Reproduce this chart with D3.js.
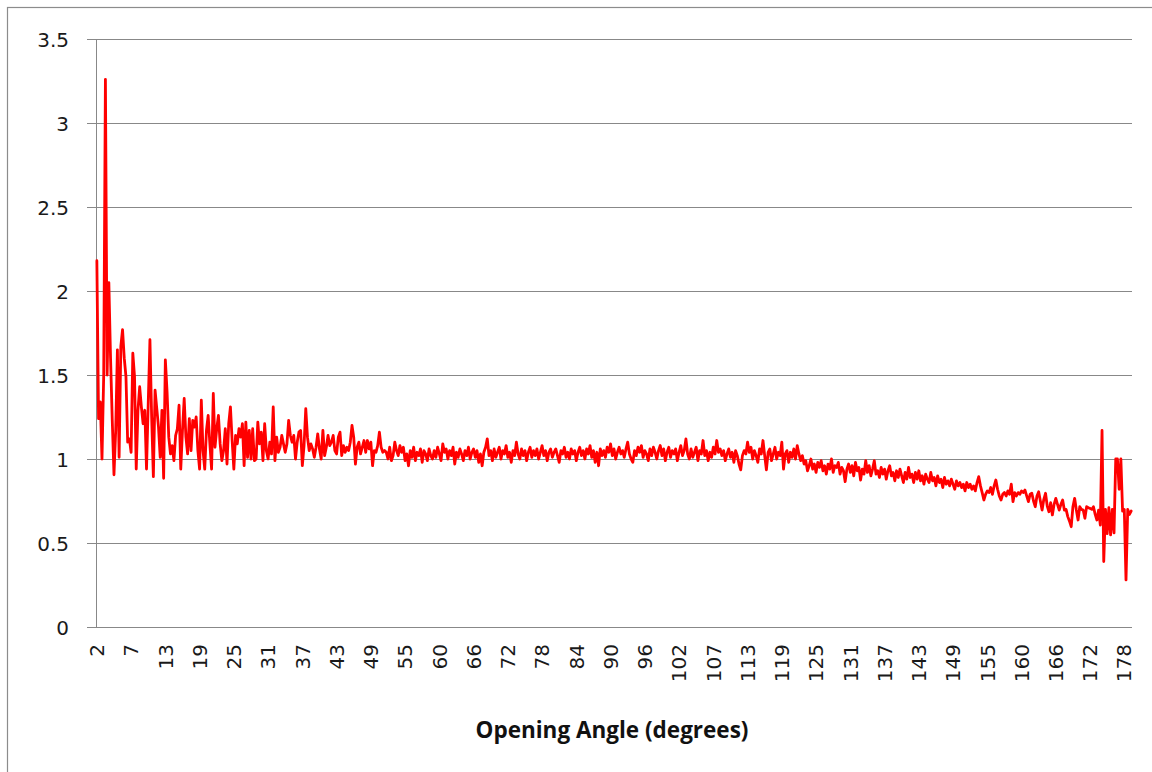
<!DOCTYPE html>
<html>
<head>
<meta charset="utf-8">
<script src="https://cdn.jsdelivr.net/npm/d3@7"></script>
<style>
  html, body { margin: 0; padding: 0; background: #ffffff; }
  svg { display: block; }
</style>
</head>
<body>
<svg id="chart" width="1152" height="772"></svg>
<script>
// Category labels shown along the x axis (one every labelStep points)
const angleLabels = [2, 7, 13, 19, 25, 31, 37, 43, 49, 55, 60, 66, 72, 78, 84, 90,
  96, 102, 107, 113, 119, 125, 131, 137, 143, 149, 155, 160, 166, 172, 178];
const labelStep = 20;

// Value axis ticks
const yTicks = [0, 0.5, 1, 1.5, 2, 2.5, 3, 3.5];

// Ratio per opening-angle bin, in category order
const ratio = [
  2.18,1.24,1.34,1.0,1.5,3.26,1.5,2.05,1.6,1.23,0.906,1.17,1.65,1.01,1.67,1.77,1.6,1.49,1.1,1.12,1.04,
  1.63,1.49,0.94,1.29,1.43,1.31,1.21,1.29,0.94,1.33,1.71,1.25,0.895,1.41,1.3,1.19,1.01,1.29,0.885,1.59,
  1.4,1.13,1.03,1.08,0.99,1.14,1.18,1.32,0.94,1.17,1.36,1.13,1.03,1.24,1.05,1.23,1.19,1.25,1.05,0.94,
  1.35,1.05,0.94,1.17,1.26,1.09,0.94,1.39,1.07,1.18,1.26,1.09,0.99,1.05,1.18,0.97,1.21,1.31,1.11,0.94,
  1.14,1.09,1.18,1.13,1.21,0.96,
  1.22,1.01,1.17,1.0,1.18,0.99,1.0,1.22,1.09,1.16,0.99,1.21,1.05,1.0,1.1,1.03,1.31,0.99,1.13,1.04,
  1.07,1.14,1.09,1.04,1.09,1.23,1.14,1.1,1.14,1.0,1.1,1.16,1.17,0.96,1.08,1.3,1.13,1.05,1.09,1.06,
  1.01,1.07,1.15,1.06,1.0,1.17,1.02,1.07,1.14,1.08,1.1,1.14,1.05,1.03,1.13,1.16,1.02,1.08,1.04,1.07,
  1.05,1.1,1.2,1.13,0.97,1.07,1.1,1.03,1.07,1.11,1.04,1.11,1.06,1.1,0.96,1.05,1.04,1.08,1.16,1.07,
  1.04,1.05,1.04,1.0,1.07,0.99,1.02,1.1,1.05,1.02,1.08,
  1.04,1.07,0.99,1.03,0.96,1.05,1.01,1.07,0.99,1.04,
  1.02,1.06,0.98,1.05,1.03,0.99,1.06,1.02,1.0,1.05,
  1.01,1.07,1.03,0.99,1.09,1.04,1.06,1.0,1.05,1.02,
  1.07,0.97,1.04,1.01,1.06,1.03,0.99,1.05,1.02,1.07,
  1.0,1.04,1.06,1.01,1.05,0.98,1.03,0.96,1.04,1.07,
  1.12,1.02,1.05,0.99,1.06,1.01,1.04,1.07,1.0,1.05,
  1.03,1.08,1.01,1.04,0.98,1.05,1.02,1.1,1.03,1.0,
  1.06,1.02,1.05,0.99,1.04,1.07,1.01,1.05,1.02,1.06,
  1.0,1.04,1.08,1.02,1.05,0.99,1.04,1.06,1.01,
  1.04,1.06,1.02,0.98,1.05,1.03,1.07,1.01,1.04,1.0,
  1.06,1.03,1.05,0.99,1.04,1.07,1.02,1.05,1.0,1.06,
  1.03,1.08,1.01,1.05,0.98,1.04,0.96,1.06,1.02,1.05,
  1.01,1.07,1.04,1.09,1.02,1.06,1.0,1.04,1.07,1.03,
  1.05,1.01,1.06,1.1,1.03,1.0,0.98,1.05,1.02,1.07,
  1.04,1.08,1.01,1.05,1.03,0.99,1.06,1.02,1.07,1.04,
  1.0,1.05,1.08,1.02,1.06,0.99,1.04,1.07,1.01,1.05,
  1.03,1.06,0.99,1.04,1.08,1.02,1.05,1.12,1.03,1.0,
  1.06,1.01,1.04,1.07,0.99,1.05,1.03,1.11,1.02,
  1.05,0.99,1.04,1.01,1.07,1.03,1.11,1.04,1.06,
  1.02,1.05,0.99,1.03,1.06,1.01,1.04,0.98,1.05,1.02,0.97,
  0.935,1.02,1.05,1.03,1.1,1.04,1.07,1.0,1.05,1.02,0.98,1.06,1.03,
  1.11,1.02,0.935,1.04,1.06,0.99,1.03,1.07,1.0,1.04,1.02,
  1.1,0.94,1.03,1.05,0.98,1.04,1.01,1.06,1.0,1.08,1.03,0.99,1.02,
  0.97,0.99,0.93,0.96,1.0,0.94,0.97,0.92,0.98,0.95,
  0.99,0.93,0.96,0.91,0.97,0.94,1.0,0.92,0.96,0.95,0.98,
  0.91,0.95,0.93,0.865,0.94,0.97,0.92,0.96,0.9,0.98,0.93,0.95,
  0.875,0.94,0.91,0.99,0.92,0.96,0.9,0.94,0.99,0.91,
  0.93,0.89,0.95,0.91,0.94,0.88,0.93,0.96,0.9,0.92,
  0.87,0.93,0.89,0.94,0.9,0.86,0.92,0.88,0.95,0.89,0.91,
  0.86,0.92,0.88,0.93,0.87,0.9,0.85,0.91,0.88,0.86,0.92,
  0.87,0.89,0.84,0.9,0.86,0.88,0.83,0.89,0.85,0.87,0.84,
  0.88,0.85,0.82,0.87,0.84,0.86,0.83,0.85,0.81,0.86,0.83,
  0.85,0.82,0.84,0.81,0.86,0.895,0.84,0.8,0.756,0.79,0.81,0.8,0.83,
  0.79,0.84,0.875,0.82,0.78,0.756,0.79,0.8,0.78,0.81,0.79,0.85,0.746,
  0.8,0.78,0.8,0.79,0.81,0.8,0.815,0.78,0.746,0.79,0.796,0.75,0.716,0.78,0.805,0.75,0.696,0.76,0.796,0.72,
  0.686,0.74,0.667,0.73,0.766,0.73,0.696,0.73,0.756,0.696,0.7,0.657,0.63,0.597,0.716,0.766,0.696,0.637,0.716,0.7,
  0.696,0.647,0.716,0.71,0.706,0.7,0.716,0.67,0.637,0.696,0.607,1.17,0.39,0.7,0.556,0.71,0.548,0.7,0.56,1.0,
  1.0,0.82,1.0,0.69,0.7,0.28,0.7,0.67,0.69
];

const svg = d3.select("#chart");

// Outer chart-area frame
svg.append("rect")
  .attr("x", 7.5).attr("y", 7.5)
  .attr("width", 1170).attr("height", 790)
  .attr("fill", "#ffffff")
  .attr("stroke", "#8c8c8c").attr("stroke-width", 1.2);

const plot = { left: 96, right: 1132, top: 39, bottom: 627 };

const x = d3.scaleLinear()
  .domain([-0.5, ratio.length - 0.5])
  .range([plot.left, plot.right]);

const y = d3.scaleLinear()
  .domain([0, 3.5])
  .range([plot.bottom, plot.top]);

const labelFont = "'DejaVu Sans', Verdana, sans-serif";

// Horizontal gridlines with value axis
const yAxis = d3.axisLeft(y)
  .tickValues(yTicks)
  .tickSize(-(plot.right - plot.left))
  .tickSizeOuter(0)
  .tickPadding(0)
  .tickFormat(d3.format("~g"));

const gy = svg.append("g")
  .attr("transform", `translate(${plot.left},0)`)
  .call(yAxis);
gy.select(".domain").attr("stroke", "#888888").attr("stroke-width", 1);
gy.selectAll(".tick line")
  .attr("stroke", "#888888").attr("stroke-width", 1)
  .attr("x1", -9);
gy.selectAll(".tick text")
  .attr("x", -27)
  .attr("dy", "0.36em")
  .attr("fill", "#1a1a1a")
  .style("font-family", labelFont)
  .style("font-size", "20px");

// Category axis baseline
svg.append("line")
  .attr("x1", plot.left - 9).attr("x2", plot.right)
  .attr("y1", plot.bottom + 0.5).attr("y2", plot.bottom + 0.5)
  .attr("stroke", "#888888").attr("stroke-width", 1);

// Rotated category labels
svg.append("g")
  .selectAll("text")
  .data(angleLabels)
  .join("text")
  .attr("transform", (d, i) => `translate(${x(i * labelStep)},${plot.bottom + 17}) rotate(-90)`)
  .attr("text-anchor", "end")
  .attr("dy", "0.36em")
  .attr("fill", "#1a1a1a")
  .style("font-family", labelFont)
  .style("font-size", "20px")
  .text(d => d);

// Data line
const line = d3.line()
  .x((d, i) => x(i))
  .y(d => y(d));

svg.append("path")
  .datum(ratio)
  .attr("fill", "none")
  .attr("stroke", "#ff0000")
  .attr("stroke-width", 2.8)
  .attr("stroke-linejoin", "round")
  .attr("stroke-linecap", "round")
  .attr("d", line);

// Axis title
svg.append("text")
  .attr("x", 612)
  .attr("y", 738)
  .attr("text-anchor", "middle")
  .attr("fill", "#111111")
  .style("font-family", "'Open Sans', Lato, sans-serif")
  .style("font-weight", "bold")
  .style("font-size", "22.5px")
  .text("Opening Angle (degrees)");
</script>
</body>
</html>
